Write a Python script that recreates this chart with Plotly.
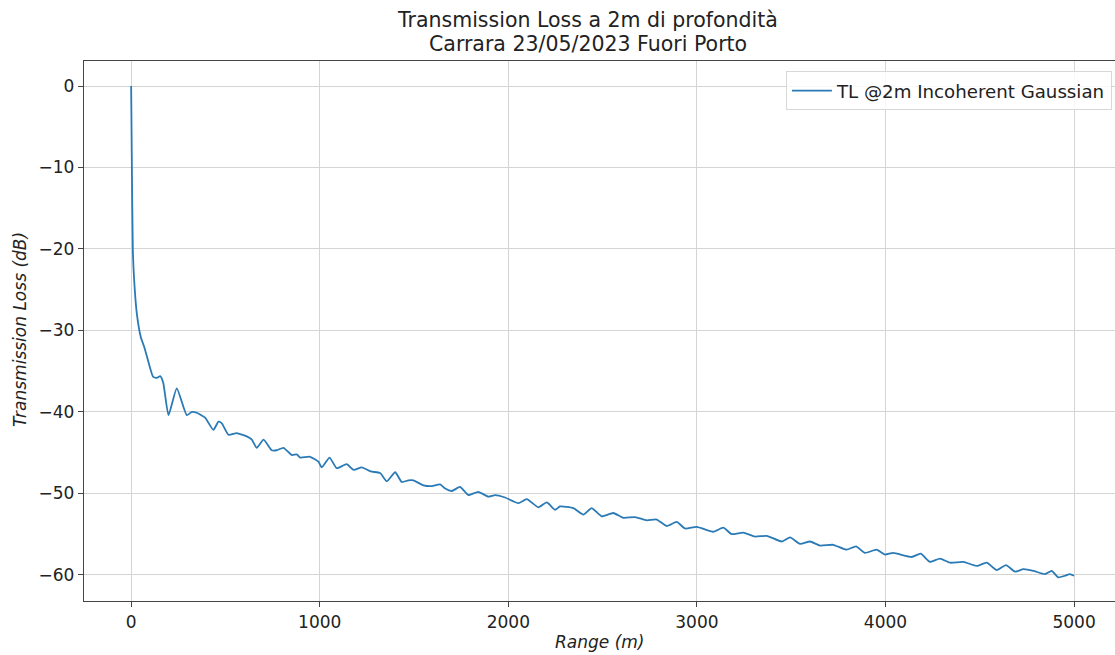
import plotly.graph_objects as go

range_m = [0, 4, 9, 16, 30, 51, 69, 85, 117, 138,
           154, 170, 198, 242, 295, 322, 348, 392, 436, 463,
           481, 516, 560, 613, 640, 666, 702, 746, 772, 808,
           852, 878, 896, 949, 993, 1011, 1052, 1090, 1143, 1179,
           1223, 1270, 1320, 1356, 1400, 1435, 1470, 1497, 1550, 1594,
           1638, 1665, 1700, 1744, 1788, 1841, 1894, 1930, 1983, 2053,
           2098, 2159, 2204, 2248, 2274, 2345, 2398, 2442, 2495, 2557,
           2610, 2672, 2734, 2787, 2840, 2893, 2937, 2999, 3087, 3140,
           3185, 3246, 3308, 3370, 3450, 3494, 3547, 3600, 3653, 3723,
           3794, 3844, 3891, 3953, 3997, 4041, 4139, 4187, 4236, 4289,
           4342, 4413, 4484, 4537, 4590, 4639, 4687, 4731, 4784, 4846,
           4881, 4916, 4952, 4978, 5000]

tl_db = [0, -10.3, -20.1, -23.8, -27.9, -30.8, -32.0, -33.3, -35.7, -35.8,
         -35.6, -36.4, -40.4, -37.1, -40.4, -40.0, -40.1, -40.7, -42.2, -41.2,
         -41.4, -42.8, -42.6, -43.0, -43.4, -44.4, -43.4, -44.7, -44.7, -44.4,
         -45.3, -45.2, -45.6, -45.5, -46.1, -46.8, -45.6, -46.9, -46.4, -47.1,
         -46.8, -47.3, -47.5, -48.5, -47.4, -48.6, -48.4, -48.4, -49.0, -49.1,
         -48.9, -49.4, -49.7, -49.2, -50.2, -49.8, -50.4, -50.2, -50.5, -51.2,
         -50.7, -51.7, -51.1, -52.0, -51.6, -51.8, -52.6, -51.8, -52.8, -52.4,
         -53.0, -52.9, -53.3, -53.2, -54.0, -53.5, -54.3, -54.1, -54.7, -54.2,
         -55.0, -54.8, -55.3, -55.2, -55.9, -55.4, -56.2, -55.9, -56.4, -56.3,
         -56.9, -56.5, -57.3, -56.9, -57.5, -57.3, -57.8, -57.4, -58.4, -58.0,
         -58.5, -58.4, -58.9, -58.5, -59.4, -58.8, -59.6, -59.3, -59.5, -59.9,
         -59.5, -60.3, -60.1, -59.9, -60.1]

x_ticks = [0, 1000, 2000, 3000, 4000, 5000]
x_tick_labels = ["0", "1000", "2000", "3000", "4000", "5000"]
y_ticks = [0, -10, -20, -30, -40, -50, -60]
y_tick_labels = ["0", "−10", "−20", "−30", "−40", "−50", "−60"]

title_lines = ["Transmission Loss a 2m di profondità", "Carrara 23/05/2023 Fuori Porto"]
series_name = "TL @2m Incoherent Gaussian"

FONT = "DejaVu Sans"
fig = go.Figure()
fig.add_trace(go.Scatter(x=range_m, y=tl_db, mode="lines", name=series_name,
                         line=dict(color="#2a7ab6", width=1.8, shape="spline", smoothing=0.5)))

fig.update_layout(
    width=1115, height=655,
    margin=dict(l=84, r=0, t=61, b=54),
    paper_bgcolor="white", plot_bgcolor="white",
    font=dict(family=FONT, size=17, color="#222222"),
    showlegend=True,
    legend=dict(x=0.997, y=0.981, xanchor="right", yanchor="top",
                bgcolor="rgba(255,255,255,0.8)", bordercolor="#d8d8d8", borderwidth=1,
                itemwidth=40, tracegroupgap=0,
                font=dict(family=FONT, size=18.2, color="#222222")),
    xaxis=dict(range=[-250, 5217], tickvals=x_ticks, ticktext=x_tick_labels,
               showgrid=True, gridcolor="#d4d4d4", gridwidth=1.2,
               showline=True, linecolor="#444444", linewidth=1.3, mirror=True,
               ticks="outside", ticklen=5, tickcolor="#444444",
               zeroline=False, tickfont=dict(size=17)),
    yaxis=dict(range=[-63.2, 3.07], tickvals=y_ticks, ticktext=y_tick_labels,
               showgrid=True, gridcolor="#d4d4d4", gridwidth=1.2,
               showline=True, linecolor="#444444", linewidth=1.3,
               ticks="outside", ticklen=5, tickcolor="#444444",
               zeroline=False, tickfont=dict(size=17)),
    annotations=[
        dict(text=title_lines[0], xref="paper", yref="paper", x=0.4888, y=1.0759,
             xanchor="center", yanchor="middle", showarrow=False, font=dict(size=20.5)),
        dict(text=title_lines[1], xref="paper", yref="paper", x=0.4888, y=1.0315,
             xanchor="center", yanchor="middle", showarrow=False, font=dict(size=20.5)),
        dict(text="<i>Range (m)</i>", xref="paper", yref="paper", x=(599 - 84) / 1031,
             y=-(642 - 601) / 540, xanchor="center", yanchor="middle", showarrow=False,
             font=dict(size=17)),
        dict(text="<i>Transmission Loss (dB)</i>", xref="paper", yref="paper",
             x=-(84 - 20) / 1031, y=(601 - 330) / 540, xanchor="center", yanchor="middle",
             textangle=-90, showarrow=False, font=dict(size=17)),
    ],
)

fig.write_html("out.html", config={"displayModeBar": False},
               post_script="document.body.style.margin='0';document.body.style.overflow='hidden';")
